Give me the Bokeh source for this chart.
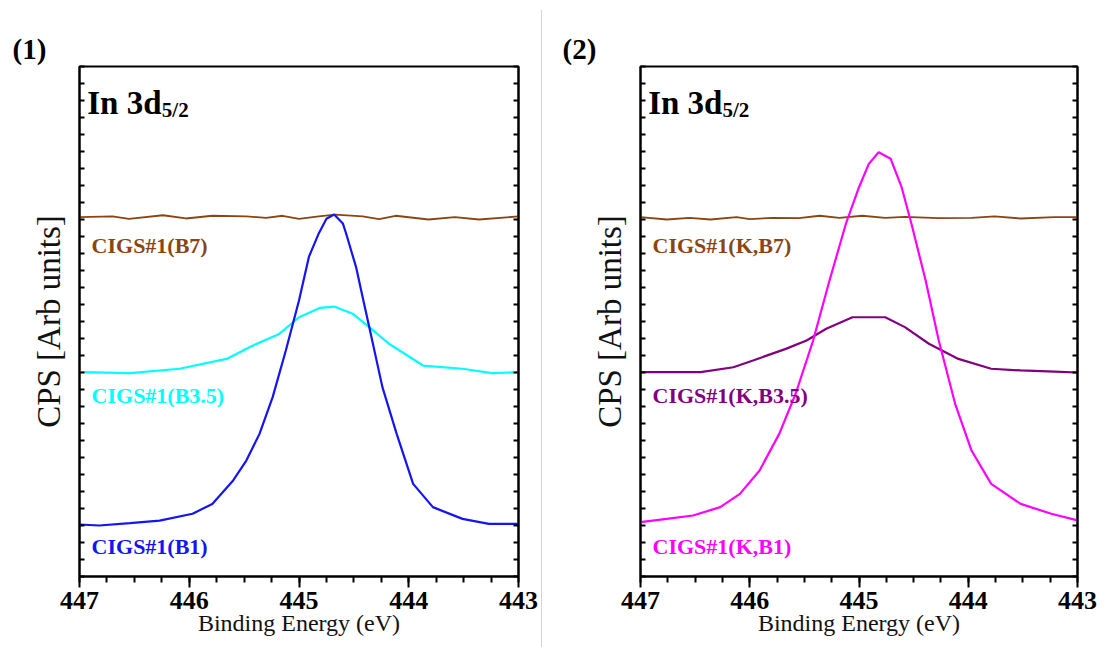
from bokeh.plotting import figure
from bokeh.models import Range1d, SingleIntervalTicker, LinearAxis, Label, Div
from bokeh.layouts import row
from bokeh.embed import file_html
from bokeh.resources import INLINE

# ---------------- data ----------------
# Panel (1)
e_b7 = [447.0, 446.70, 446.55, 446.24, 446.03, 445.79, 445.48, 445.30, 445.15, 445.0,
        444.82, 444.67, 444.42, 444.27, 444.12, 443.82, 443.58, 443.36, 443.0]
y_b7 = [21.14, 21.18, 21.04, 21.25, 21.06, 21.22, 21.18, 21.10, 21.22, 21.04,
        21.18, 21.29, 21.18, 21.02, 21.22, 21.0, 21.14, 21.0, 21.18]

e_b35 = [447.0, 446.54, 446.09, 445.66, 445.42, 445.18, 445.0, 444.81, 444.68, 444.51,
         444.36, 444.18, 443.87, 443.51, 443.24, 443.0]
y_b35 = [12.02, 11.96, 12.22, 12.8, 13.59, 14.27, 15.25, 15.8, 15.88, 15.45,
         14.67, 13.69, 12.41, 12.22, 11.96, 12.02]

e_b1 = [447.0, 446.82, 446.54, 446.27, 445.97, 445.79, 445.60, 445.48, 445.36, 445.24,
        445.12, 445.0, 444.91, 444.82, 444.75, 444.68, 444.60, 444.57, 444.48, 444.42,
        444.36, 444.24, 444.11, 443.96, 443.78, 443.51, 443.27, 443.0]
y_b1 = [3.06, 3.0, 3.14, 3.29, 3.69, 4.27, 5.65, 6.82, 8.39, 10.55,
        13.29, 16.24, 18.8, 20.18, 21.04, 21.29, 20.76, 20.16, 18.2, 16.43,
        14.67, 11.14, 8.39, 5.45, 4.08, 3.39, 3.1, 3.1]

# Panel (2)
e_kb7 = [447.0, 446.76, 446.55, 446.36, 446.12, 446.0, 445.79, 445.55, 445.36, 445.18,
         444.97, 444.76, 444.58, 444.27, 443.97, 443.76, 443.52, 443.21, 443.0]
y_kb7 = [21.14, 21.0, 21.10, 21.0, 21.14, 21.02, 21.10, 21.08, 21.22, 21.10,
         21.22, 21.10, 21.16, 21.08, 21.10, 21.18, 21.06, 21.14, 21.14]

e_kb35 = [447.0, 446.45, 446.15, 445.97, 445.67, 445.48, 445.30, 445.06, 444.76, 444.58,
          444.36, 444.09, 443.79, 443.52, 443.21, 443.0]
y_kb35 = [12.02, 12.02, 12.31, 12.71, 13.39, 13.88, 14.57, 15.25, 15.25, 14.67,
          13.69, 12.8, 12.22, 12.12, 12.05, 12.0]

e_kb1 = [447.0, 446.76, 446.52, 446.27, 446.09, 445.91, 445.73, 445.58, 445.42, 445.27,
         445.12, 445.0, 444.91, 444.82, 444.71, 444.61, 444.52, 444.39, 444.27, 444.12,
         443.97, 443.79, 443.52, 443.24, 443.0]
y_kb1 = [3.2, 3.39, 3.59, 4.08, 4.86, 6.24, 8.39, 10.75, 13.88, 17.41,
         20.75, 22.9, 24.27, 24.96, 24.57, 22.9, 20.75, 17.41, 13.88, 10.16,
         7.41, 5.45, 4.27, 3.69, 3.3]

x_ticks_interval = 1
panel_titles = ["(1)", "(2)"]
labels_1 = ["CIGS#1(B7)", "CIGS#1(B3.5)", "CIGS#1(B1)"]
labels_2 = ["CIGS#1(K,B7)", "CIGS#1(K,B3.5)", "CIGS#1(K,B1)"]
x_label = "Binding Energy (eV)"
y_label = "CPS [Arb units]"

BROWN = "#8B4513"
CYAN = "#00FFFF"
BLUE = "#1414F5"
PURPLE = "#800080"
MAGENTA = "#FF00FF"
SERIF = "Liberation Serif"


def make_panel(width, bl, br, series, labels, colors, title, title_offset):
    p = figure(width=width, height=645, x_range=Range1d(447, 443), y_range=Range1d(0, 30),
               output_backend="svg", toolbar_location=None,
               min_border_left=bl, min_border_right=br, min_border_top=66, min_border_bottom=69)
    p.xgrid.visible = False
    p.ygrid.visible = False
    p.outline_line_color = "black"
    p.outline_line_width = 2
    p.background_fill_color = "white"
    p.border_fill_color = "white"

    p.title.text = title
    p.title.align = "left"
    p.title.offset = title_offset
    p.title.text_font = SERIF
    p.title.text_font_style = "bold"
    p.title.text_font_size = "29px"
    p.title.text_color = "black"
    p.title.standoff = 4

    xa = p.xaxis[0]
    xa.ticker = SingleIntervalTicker(interval=x_ticks_interval, num_minor_ticks=4)
    xa.axis_line_width = 2
    xa.major_tick_line_width = 2
    xa.minor_tick_line_width = 2
    xa.major_tick_out = 11
    xa.major_tick_in = 0
    xa.minor_tick_out = 6
    xa.minor_tick_in = 0
    xa.major_label_text_font = SERIF
    xa.major_label_text_font_style = "bold"
    xa.major_label_text_font_size = "26px"
    xa.major_label_text_color = "black"
    xa.major_label_standoff = 4
    xa.axis_label = x_label
    xa.axis_label_text_font = SERIF
    xa.axis_label_text_font_style = "normal"
    xa.axis_label_text_font_size = "24px"
    xa.axis_label_text_color = "#111111"
    xa.axis_label_standoff = -2

    ya = p.yaxis[0]
    ya.ticker = SingleIntervalTicker(interval=1, num_minor_ticks=0)
    ya.axis_line_width = 2
    ya.major_tick_line_width = 2
    ya.major_tick_in = 5
    ya.major_tick_out = 0
    ya.minor_tick_line_color = None
    ya.major_label_text_font_size = "0px"
    ya.major_label_text_color = None
    ya.major_label_standoff = 0
    ya.axis_label = y_label
    ya.axis_label_text_font = SERIF
    ya.axis_label_text_font_style = "normal"
    ya.axis_label_text_font_size = "33px"
    ya.axis_label_text_color = "#111111"
    ya.axis_label_standoff = 13

    ra = LinearAxis(ticker=SingleIntervalTicker(interval=1, num_minor_ticks=0))
    ra.axis_line_width = 2
    ra.major_tick_line_width = 2
    ra.major_tick_in = 5
    ra.major_tick_out = 0
    ra.minor_tick_line_color = None
    ra.major_label_text_font_size = "0px"
    ra.major_label_text_color = None
    p.add_layout(ra, "right")

    for (ex, ey, w), c in zip(series, colors):
        p.line(ex, ey, line_color=c, line_width=w)

    for txt, yy, c in zip(labels, [19.47, 10.65, 1.76], colors):
        p.add_layout(Label(x=446.89, y=yy, text=txt, text_color=c, text_font=SERIF,
                           text_font_style="bold", text_font_size="22px",
                           text_align="left", text_baseline="middle"))

    p.add_layout(Label(x=446.93, y=27.88, text="In 3d", text_color="black", text_font=SERIF,
                       text_font_style="bold", text_font_size="33px",
                       text_align="left", text_baseline="alphabetic"))
    p.add_layout(Label(x=446.25, y=27.47, text="5/2", text_color="black", text_font=SERIF,
                       text_font_style="bold", text_font_size="21px",
                       text_align="left", text_baseline="alphabetic"))
    return p


p1 = make_panel(541, 79, 23,
                [(e_b7, y_b7, 1.8), (e_b35, y_b35, 2.2), (e_b1, y_b1, 2.2)],
                labels_1, [BROWN, CYAN, BLUE], panel_titles[0], -67)
p2 = make_panel(558, 98, 23,
                [(e_kb7, y_kb7, 1.8), (e_kb35, y_kb35, 2.2), (e_kb1, y_kb1, 2.2)],
                labels_2, [BROWN, PURPLE, MAGENTA], panel_titles[1], -78)

divider = Div(width=1, height=637, margin=(10, 0, 0, 0),
              styles={"background-color": "#d4d4d4"})

layout = row(p1, divider, p2, spacing=0)

open("out.html", "w").write(file_html(layout, INLINE))
